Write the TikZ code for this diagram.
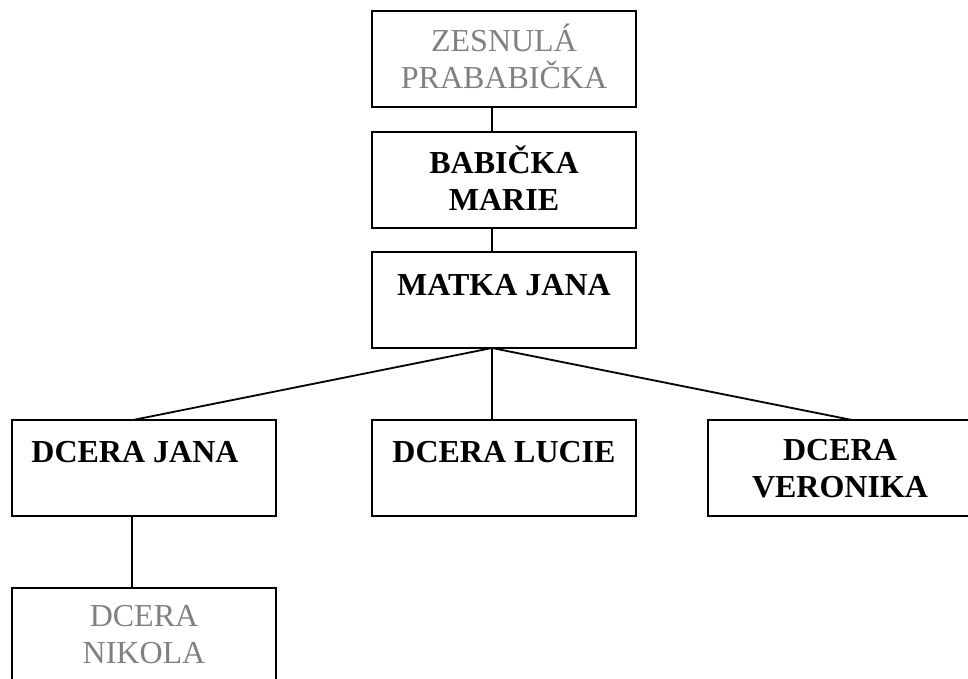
\documentclass[tikz,border=0pt]{standalone}
\usepackage{fontspec}
\setmainfont{Liberation Serif}
\definecolor{deadgray}{HTML}{808080}
\begin{document}
\begin{tikzpicture}[x=1pt,y=-1pt,
  box/.style={draw=black,line width=2pt,minimum width=264pt,minimum height=96pt,inner sep=0pt,outer sep=0pt,anchor=north west},
  txt/.style={anchor=base,align=center,inner sep=0pt,font=\fontsize{32}{36.8}\selectfont},
  livetxt/.style={txt,font=\fontsize{32}{36.8}\selectfont\bfseries},
  deadtxt/.style={txt,text=deadgray},
  conn/.style={draw=black,line width=1.8pt}]
\useasboundingbox (0,0) rectangle (968,679);
% boxes
\node[box] (prab) at (372,11) {};
\node[box] (bab) at (372,132) {};
\node[box] (matka) at (372,252) {};
\node[box] (jana) at (12,420) {};
\node[box] (lucie) at (372,420) {};
\node[box] (veron) at (708,420) {};
\node[box] (nikola) at (12,588) {};
% texts (multi-line nodes: base = last line's baseline)
\node[deadtxt] (tprab) at (504,88.3) {ZESNULÁ\\PRABABIČKA};
\node[livetxt] (tbab) at (504,210) {BABIČKA\\MARIE};
\node[livetxt] (tmatka) at (504,295) {MATKA JANA};
\node[livetxt] (tjana) at (135,462) {DCERA JANA};
\node[livetxt] (tlucie) at (504,462) {DCERA LUCIE};
\node[livetxt] (tveron) at (840,497) {DCERA\\VERONIKA};
\node[deadtxt] (tnikola) at (144,663) {DCERA\\NIKOLA};
% connectors
\draw[conn] ([xshift=-12pt]prab.south) -- ([xshift=-12pt]bab.north);
\draw[conn] ([xshift=-12pt]bab.south) -- ([xshift=-12pt]matka.north);
\draw[conn] ([xshift=-12pt]matka.south) -- ([xshift=-11pt]jana.north);
\draw[conn] ([xshift=-12pt]matka.south) -- ([xshift=-12pt]lucie.north);
\draw[conn] ([xshift=-12pt]matka.south) -- ([xshift=12pt]veron.north);
\draw[conn] ([xshift=-12pt]jana.south) -- ([xshift=-12pt]nikola.north);
\end{tikzpicture}
\end{document}
